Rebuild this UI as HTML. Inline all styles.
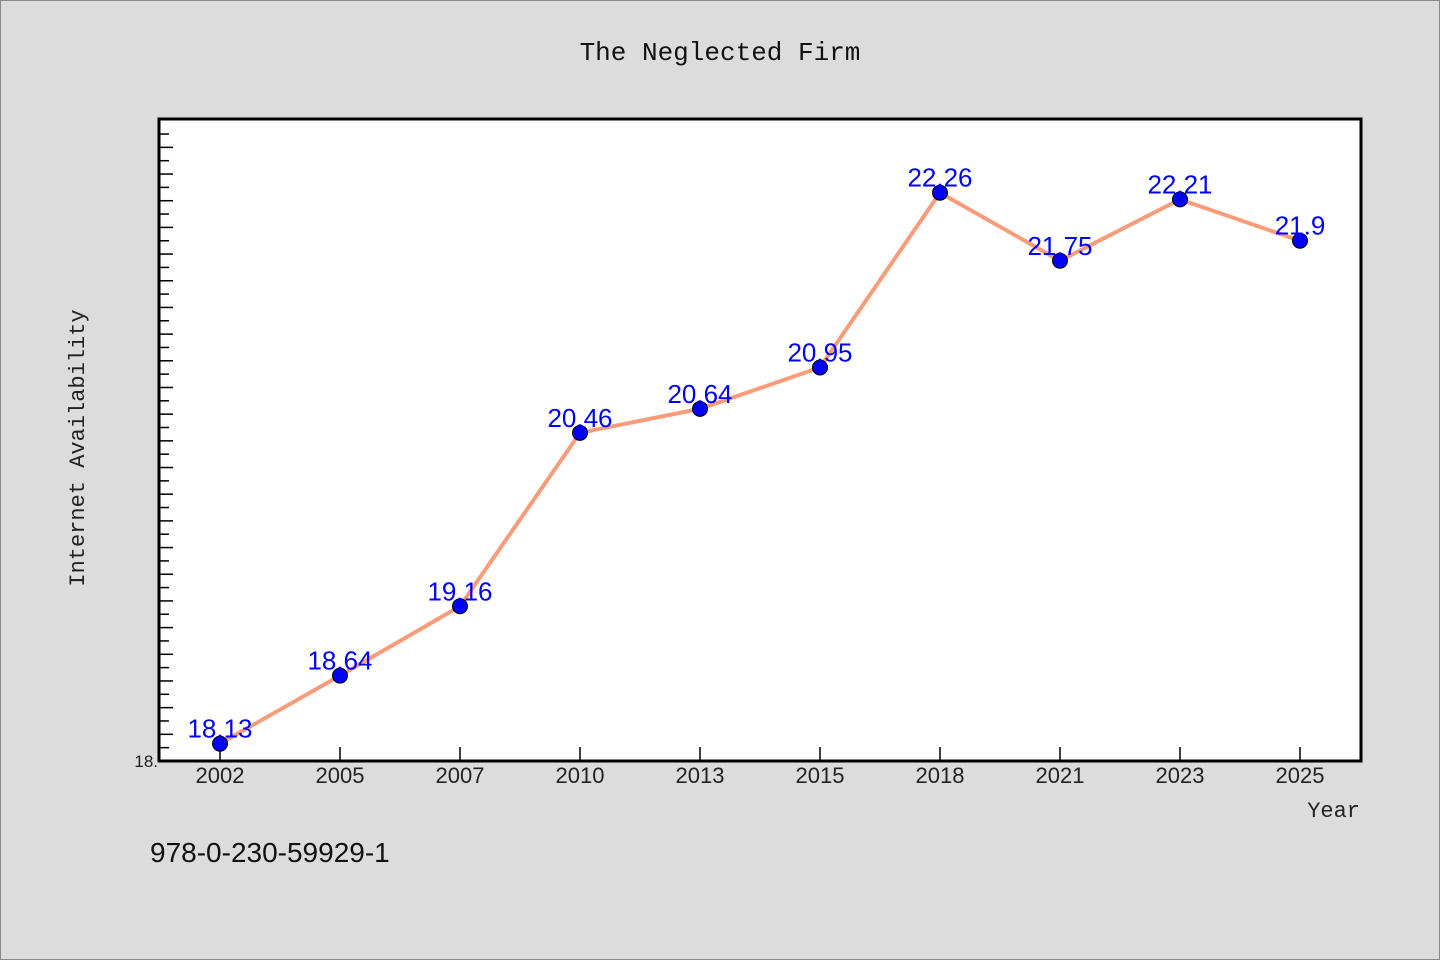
<!DOCTYPE html>
<html><head><meta charset="utf-8"><style>
body{margin:0;background:#dcdcdc;}
svg{display:block;font-family:"Liberation Mono","DejaVu Sans Mono",monospace;}
</style></head><body>
<svg id="chart" width="1440" height="960" viewBox="0 0 1440 960">
<rect x="0.5" y="0.5" width="1439" height="959" fill="#dcdcdc" stroke="#888"/>
<text x="720" y="60" text-anchor="middle" font-size="26" fill="#111">The Neglected Firm</text>
<rect x="159" y="119" width="1202" height="642" fill="#fff" stroke="#000" stroke-width="3"/>
<g id="ticks"></g>
<g id="xticks"></g>
<text x="158" y="767" text-anchor="end" font-size="17" fill="#222" font-family="Liberation Sans,sans-serif">18.</text>
<text transform="translate(84,448) rotate(-90)" text-anchor="middle" font-size="22" fill="#222">Internet Availability</text>
<text x="1360" y="817" text-anchor="end" font-size="22" fill="#222">Year</text>
<text x="150" y="862" font-size="28" fill="#111" font-family="Liberation Sans,sans-serif">978-0-230-59929-1</text>
<g id="series"></g>
</svg>
<script>
const categories=["2002","2005","2007","2010","2013","2015","2018","2021","2023","2025"];
const values=[18.13,18.64,19.16,20.46,20.64,20.95,22.26,21.75,22.21,21.9];
const valueLabels=["18.13","18.64","19.16","20.46","20.64","20.95","22.26","21.75","22.21","21.9"];
const NS="http://www.w3.org/2000/svg";
const yMin=18,pxPerUnit=133.4,y0=761;
function ys(v){return y0-(v-yMin)*pxPerUnit;}
function xs(i){return 220+120*i;}
function mk(t,a,p){const e=document.createElementNS(NS,t);for(const k in a)e.setAttribute(k,a[k]);p.appendChild(e);return e;}
const tg=document.getElementById('ticks');
for(let k=1;;k++){const y=ys(yMin+k*0.1);if(y<121)break;
 const t=mk('line',{x1:160,x2:160+(k%2==0?13:9),y1:y,y2:y,stroke:'#000','stroke-width':1.5},tg);
 
 }
const xg=document.getElementById('xticks');
categories.forEach((c,i)=>{
 const l=mk('line',{x1:xs(i),x2:xs(i),y1:747,y2:760,stroke:'#000','stroke-width':1.5},xg);
 
 
 const t=mk('text',{x:xs(i),y:783,'text-anchor':'middle','font-size':22,fill:'#222','font-family':'Liberation Sans,sans-serif'},xg);
 t.textContent=c;
 
 });
const sg=document.getElementById('series');
const pl=mk('polyline',{points:values.map((v,i)=>xs(i)+','+ys(v)).join(' '),fill:'none',stroke:'#f89c7a','stroke-width':4},sg);


values.forEach((v,i)=>{
 const c=mk('circle',{cx:xs(i),cy:ys(v),r:7.5,fill:'#0000ff',stroke:'#000','stroke-width':1},sg);
 
 
 const t=mk('text',{x:xs(i),y:ys(v)-6,'text-anchor':'middle','font-size':26,fill:'#0000ff','font-family':'Liberation Sans,sans-serif'},sg);
 t.textContent=valueLabels[i];
 
 });
</script>
</body></html>
